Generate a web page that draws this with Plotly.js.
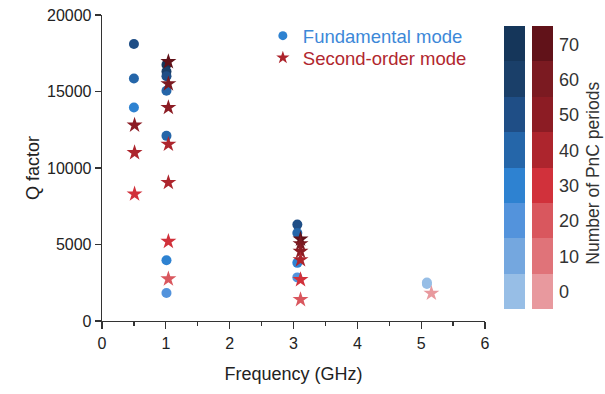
<!DOCTYPE html>
<html>
<head>
<meta charset="utf-8">
<script src="https://cdn.plot.ly/plotly-3.0.1.min.js"></script>
<style>
html,body{margin:0;padding:0;background:#fff;}
#chart{width:605px;height:394px;}
</style>
</head>
<body>
<div id="chart"></div>
<script>
// Fundamental mode
const fundFreq = [0.50, 0.50, 0.50, 1.01, 1.01, 1.01, 1.01, 1.01, 1.01, 1.01, 3.06, 3.06, 3.06, 3.06, 5.09, 5.09];
const fundQ    = [18100, 15850, 13950, 16750, 16300, 16000, 15050, 12100, 3970, 1830, 6300, 5750, 3800, 2850, 2520, 2420];
const fundN    = [50, 40, 30, 70, 60, 50, 40, 40, 30, 20, 50, 40, 30, 20, 0, 0];

// Second-order mode
const secFreq = [0.51, 0.51, 0.51, 1.04, 1.04, 1.04, 1.04, 1.04, 1.04, 1.04, 3.11, 3.11, 3.11, 3.11, 3.11, 3.11, 5.16];
const secQ    = [12800, 11000, 8300, 16950, 15500, 13950, 11550, 9050, 5200, 2750, 5350, 5050, 4550, 4000, 2700, 1400, 1810];
const secN    = [50, 40, 30, 70, 60, 50, 40, 40, 30, 20, 70, 60, 50, 40, 30, 20, 0];

// Colorbar bins (Number of PnC periods)
const periodTicks = [0, 10, 20, 30, 40, 50, 60, 70];
const blueColors = ['#97bee6', '#74a7df', '#5393dc', '#2e82d1', '#2566a9', '#1f4e86', '#1a3f69', '#15365a'];
const redColors  = ['#e8999e', '#e07379', '#d9575e', '#d1313b', '#ad252d', '#8c1c24', '#7b1a21', '#611219'];
const colorbarTitle = 'Number of PnC periods';

function discreteScale(cols) {
  const n = cols.length, s = [];
  cols.forEach((c, i) => { s.push([i / n, c]); s.push([(i + 1) / n, c]); });
  return s;
}

const FONT = 'Liberation Sans, Arial, sans-serif';
const cbCommon = {
  thickness: 21, thicknessmode: 'pixels',
  len: 283, lenmode: 'pixels',
  y: 0.5, yanchor: 'middle', ypad: 0, xpad: 0,
  outlinewidth: 0, xanchor: 'left',
  tickvals: periodTicks
};

const traces = [
  {
    type: 'scatter', mode: 'markers', x: fundFreq, y: fundQ, showlegend: false,
    marker: {
      symbol: 'circle', size: 10, color: fundN, cmin: -5, cmax: 75,
      colorscale: discreteScale(blueColors), line: {width: 0},
      showscale: true,
      colorbar: Object.assign({}, cbCommon, {x: 1.0496, showticklabels: false, ticks: ''})
    }
  },
  {
    type: 'scatter', mode: 'markers', x: secFreq, y: secQ, showlegend: false,
    marker: {
      symbol: 'star', size: 12, color: secN, cmin: -5, cmax: 75,
      colorscale: discreteScale(redColors), line: {width: 0},
      showscale: true,
      colorbar: Object.assign({}, cbCommon, {
        x: 1.1227, ticks: 'outside', ticklen: 3, tickcolor: 'rgba(0,0,0,0)',
        tickfont: {family: FONT, size: 18, color: '#333'}
      })
    }
  },
  {
    type: 'scatter', mode: 'markers', x: [null], y: [null], showlegend: true, legend: 'legend',
    name: '<span style="color:#3d88d8">Fundamental mode</span>',
    marker: {symbol: 'circle', size: 9, color: '#2e82d1'}
  },
  {
    type: 'scatter', mode: 'markers', x: [null], y: [null], showlegend: true, legend: 'legend2',
    name: '<span style="color:#b1272e">Second-order mode</span>',
    marker: {symbol: 'star', size: 10, color: '#ad252d'}
  }
];

const axisCommon = {
  showline: true, linecolor: '#333', linewidth: 1.3,
  showgrid: false, zeroline: false, ticks: 'outside', tickcolor: '#333', tickwidth: 1.3,
  tickfont: {family: FONT, size: 16, color: '#222'}
};

const legendCommon = {
  x: 0.42, xanchor: 'left', yanchor: 'top',
  bgcolor: 'rgba(0,0,0,0)', borderwidth: 0,
  font: {family: FONT, size: 18.5}
};

const layout = {
  width: 605, height: 394,
  margin: {l: 102, r: 120, t: 15, b: 73, pad: 0, autoexpand: false},
  paper_bgcolor: '#fff', plot_bgcolor: '#fff',
  font: {family: FONT, color: '#222'},
  xaxis: Object.assign({}, axisCommon, {
    range: [0, 6], dtick: 1, tick0: 0, ticklen: 7,
    minor: {dtick: 0.5, ticks: 'outside', ticklen: 4, tickcolor: '#333', tickwidth: 1.3},
    title: {text: 'Frequency (GHz)', font: {family: FONT, size: 18, color: '#222'}, standoff: 17}
  }),
  yaxis: Object.assign({}, axisCommon, {
    range: [0, 20000], dtick: 5000, tick0: 0, ticklen: 6, tickformat: 'd',
    title: {text: 'Q factor', font: {family: FONT, size: 18, color: '#222'}, standoff: 2}
  }),
  legend: Object.assign({}, legendCommon, {y: 0.993}),
  legend2: Object.assign({}, legendCommon, {y: 0.921}),
  annotations: [{
    text: colorbarTitle, xref: 'paper', yref: 'paper',
    x: 1.2820, y: 0.4815, xanchor: 'center', yanchor: 'middle',
    textangle: -90, showarrow: false, borderpad: 0,
    font: {family: FONT, size: 17.5, color: '#333'}
  }],
  showlegend: true
};

Plotly.newPlot('chart', traces, layout, {displayModeBar: false, staticPlot: true});
</script>
</body>
</html>
